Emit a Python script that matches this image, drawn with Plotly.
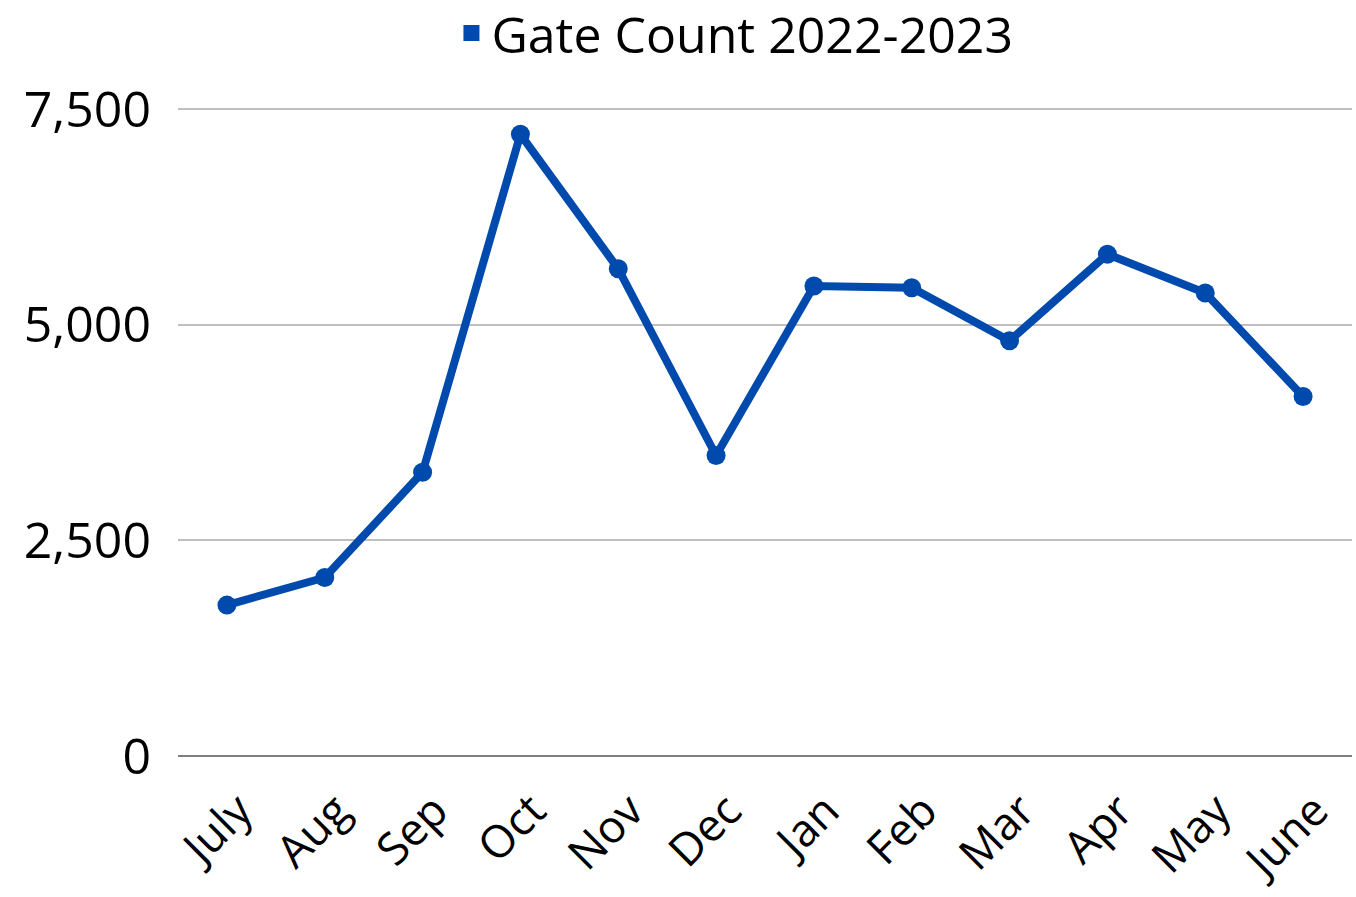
import plotly.graph_objects as go

months = ["July", "Aug", "Sep", "Oct", "Nov", "Dec", "Jan", "Feb", "Mar", "Apr", "May", "June"]
gate_count = [1750, 2070, 3290, 7210, 5650, 3485, 5450, 5430, 4815, 5820, 5370, 4170]
y_ticks = [0, 2500, 5000, 7500]
y_tick_labels = ["0", "2,500", "5,000", "7,500"]
series_name = "Gate Count 2022-2023"

color = "#004AAD"

fig = go.Figure()
fig.add_trace(go.Scatter(
    x=months, y=gate_count, mode="lines+markers",
    name=series_name, showlegend=False,
    line=dict(color=color, width=8),
    marker=dict(color=color, size=19, symbol="circle"),
))
fig.add_trace(go.Scatter(
    x=[None], y=[None], mode="markers", name=series_name,
    marker=dict(color=color, size=22, symbol="square"),
    showlegend=True,
))

fig.update_layout(
    width=1356, height=897,
    paper_bgcolor="white", plot_bgcolor="white",
    margin=dict(l=178, r=4, t=108, b=141, autoexpand=False),
    font=dict(family="Open Sans, sans-serif", color="black", size=48),
    showlegend=True,
    legend=dict(orientation="h", x=0.542, xanchor="center", xref="container",
                y=1 - 33 / 897, yanchor="middle", yref="container",
                font=dict(family="Open Sans, sans-serif", size=50), itemsizing="trace",
                bgcolor="rgba(0,0,0,0)"),
    xaxis=dict(
        type="category", tickangle=-45, showgrid=False, showline=False,
        ticks="", tickfont=dict(size=45), range=[-0.5, 11.5], automargin=False,
        ticklabelstandoff=18, ticklabelshift=12,
    ),
    yaxis=dict(
        range=[0, 7515], tickvals=y_ticks, ticktext=y_tick_labels,
        showgrid=True, gridcolor="#BFBFBF", gridwidth=2,
        zeroline=True, zerolinecolor="#7F7F7F", zerolinewidth=2,
        showline=False, ticks="", ticklabelstandoff=26, tickfont=dict(size=50),
        automargin=False,
    ),
)

fig.write_html(
    "out.html",
    config={"displayModeBar": False},
    post_script="document.body.style.margin='0';document.body.style.overflow='hidden';",
)
